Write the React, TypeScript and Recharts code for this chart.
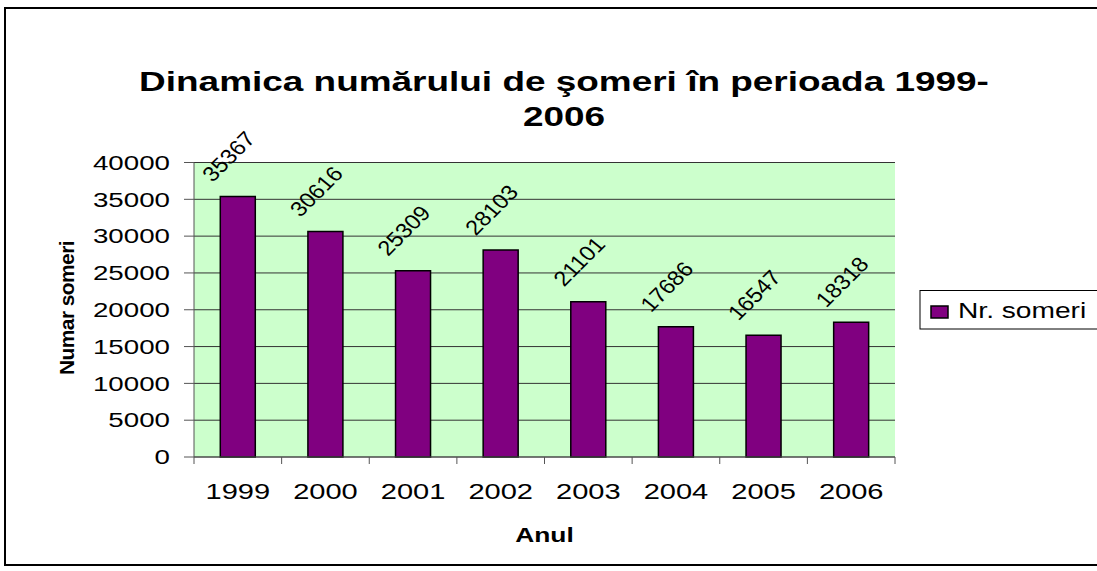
import React from 'react';
import { BarChart, Bar, XAxis, YAxis, CartesianGrid, LabelList } from 'recharts';

const years = ['1999', '2000', '2001', '2002', '2003', '2004', '2005', '2006'];
const someri = [35367, 30616, 25309, 28103, 21101, 17686, 16547, 18318];
const yTicks = [0, 5000, 10000, 15000, 20000, 25000, 30000, 35000, 40000];
const titleLines = ['Dinamica numărului de şomeri în perioada 1999-', '2006'];
const seriesName = 'Nr. someri';
const xTitle = 'Anul';
const yTitle = 'Numar someri';

const data = years.map((y, i) => ({ year: y, value: someri[i] }));

const W = 1097;
const H = 571;
const PLOT_L = 194;
const PLOT_R = 895;
const PLOT_T = 162.5;
const PLOT_B = 457;
const YAXIS_W = 60;
const XAXIS_H = 40;
const SX = 1.32;
const FONT = "'Liberation Sans', Arial, sans-serif";
const BAR_COLOR = '#800080';

const XTick = (props: any) => {
  const { x, index, payload } = props;
  const band = (PLOT_R - PLOT_L) / years.length;
  return (
    <g>
      <line x1={x - band / 2} x2={x - band / 2} y1={PLOT_B} y2={PLOT_B + 7} stroke="#555" />
      {index === years.length - 1 && (
        <line x1={x + band / 2} x2={x + band / 2} y1={PLOT_B} y2={PLOT_B + 7} stroke="#555" />
      )}
      <text
        transform={`translate(${x},${PLOT_B + 42}) scale(${SX},1)`}
        textAnchor="middle"
        fontSize={22}
        fontFamily={FONT}
        fill="#000"
      >
        {payload.value}
      </text>
    </g>
  );
};

const YTick = (props: any) => {
  const { x, y, payload } = props;
  return (
    <text
      transform={`translate(${x},${y}) scale(${SX},1)`}
      textAnchor="end"
      dominantBaseline="central"
      fontSize={21}
      fontFamily={FONT}
      fill="#000"
    >
      {payload.value}
    </text>
  );
};

const BarLabel = (props: any) => {
  const { x, y, width, value } = props;
  const cx = x + width / 2 - 9;
  const cy = y - 40;
  return (
    <text
      transform={`translate(${cx},${cy}) scale(1.12,1) rotate(-48)`}
      textAnchor="middle"
      dominantBaseline="central"
      fontSize={21}
      fontFamily={FONT}
      fill="#000"
    >
      {value}
    </text>
  );
};

export default function App() {
  return (
    <div style={{ position: 'absolute', left: 0, top: 0, width: W, height: H, background: '#fff', overflow: 'hidden' }}>
      <BarChart
        width={W}
        height={H}
        data={data}
        margin={{ top: PLOT_T, right: W - PLOT_R, bottom: H - PLOT_B - XAXIS_H, left: PLOT_L - YAXIS_W }}
        barCategoryGap="30%"
      >
        <CartesianGrid vertical={false} fill="#CCFFCC" fillOpacity={1} stroke="#333" />
        <XAxis
          dataKey="year"
          height={XAXIS_H}
          tickLine={false}
          axisLine={{ stroke: '#555' }}
          tick={<XTick />}
          interval={0}
        />
        <XAxis xAxisId="top" dataKey="year" orientation="top" height={0} tick={false} tickLine={false} axisLine={{ stroke: '#808080' }} />
        <YAxis
          width={YAXIS_W}
          domain={[0, 40000]}
          ticks={yTicks}
          interval={0}
          tickSize={10}
          tickMargin={14}
          tickLine={{ stroke: '#555' }}
          axisLine={{ stroke: '#555' }}
          tick={<YTick />}
        />
        <YAxis yAxisId="right" orientation="right" width={0} tick={false} tickLine={false} axisLine={{ stroke: '#808080' }} />
        <Bar dataKey="value" fill={BAR_COLOR} stroke="#000" strokeWidth={1.5} isAnimationActive={false}>
          <LabelList dataKey="value" content={<BarLabel />} />
        </Bar>
      </BarChart>
      <svg width={W} height={H} style={{ position: 'absolute', left: 0, top: 0, pointerEvents: 'none' }}>
        <rect x={5} y={8} width={1100} height={557} fill="none" stroke="#000" strokeWidth={2} />
        {titleLines.map((t, i) => (
          <text
            key={i}
            transform={`translate(564,${91 + i * 35}) scale(${SX},1)`}
            textAnchor="middle"
            fontSize={28}
            fontWeight="bold"
            fontFamily={FONT}
            fill="#000"
          >
            {t}
          </text>
        ))}
        <text
          transform={`translate(74,308) rotate(-90)`}
          textAnchor="middle"
          fontSize={21}
          fontWeight="bold"
          letterSpacing={-0.6}
          fontFamily={FONT}
          fill="#000"
        >
          {yTitle}
        </text>
        <text
          transform={`translate(${(PLOT_L + PLOT_R) / 2},541.5) scale(${SX},1)`}
          textAnchor="middle"
          fontSize={20}
          fontWeight="bold"
          fontFamily={FONT}
          fill="#000"
        >
          {xTitle}
        </text>
        <rect x={920} y={290.5} width={200} height={38.5} fill="#fff" stroke="#000" strokeWidth={1} />
        <rect x={931} y={306} width={17} height={12} fill={BAR_COLOR} stroke="#000" strokeWidth={1.5} />
        <text
          transform={`translate(958,317.7) scale(1.28,1)`}
          fontSize={22}
          fontFamily={FONT}
          fill="#000"
        >
          {seriesName}
        </text>
      </svg>
    </div>
  );
}
